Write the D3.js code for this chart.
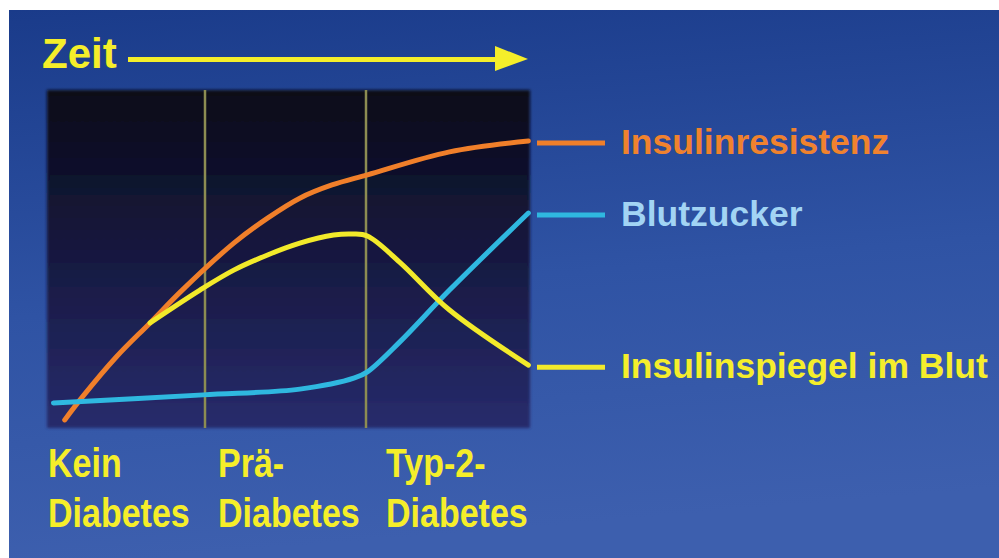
<!DOCTYPE html>
<html>
<head>
<meta charset="utf-8">
<script src="https://cdn.jsdelivr.net/npm/d3@7/dist/d3.min.js"></script>
<style>
  html, body { margin: 0; padding: 0; background: #fff; }
  svg { display: block; }
</style>
</head>
<body>
<div class="chart"></div>
<script>
"use strict";
(function(){

//data: time runs 0..3 (one unit per stage), level 0..100
var stageLines = [["Kein", "Diabetes"], ["Prä-", "Diabetes"], ["Typ-2-", "Diabetes"]];
var stageBounds = [1, 2];

var seriesNames = ["Insulinresistenz", "Blutzucker", "Insulinspiegel im Blut"];
var seriesColors = ["#f07f2a", "#2fb8e0", "#f2ea2a"];
var labelColors = ["#f0822e", "#a2d4f4", "#f5ee2c"];

var resistTime  = [0.11, 0.22, 0.43, 0.64, 0.84, 1.16, 1.37, 1.57, 1.77, 1.99, 2.5, 2.99];
var resistLevel = [2.4, 9.2, 21.0, 31.1, 40.8, 54.7, 62.1, 68.0, 71.9, 74.9, 81.7, 84.9];

var sugarTime  = [0.04, 0.97, 1.57, 1.91, 1.99, 2.19, 2.5, 2.99];
var sugarLevel = [7.4, 9.8, 11.5, 14.8, 16.6, 25.4, 40.8, 63.6];

var insulinTime  = [0.64, 0.95, 1.16, 1.37, 1.57, 1.78, 1.9, 1.99, 2.19, 2.5, 2.99];
var insulinLevel = [31.1, 40.8, 46.7, 51.2, 54.7, 57.1, 57.4, 56.8, 49.1, 34.9, 18.6];

//declaring variables
var width = 999;
var height = 558;
var plot = {left: 47, top: 90, right: 530, bottom: 428};

var zip = function(t, v){
  return t.map(function(d, i){ return {t: d, v: v[i]} })
}
var series = [zip(resistTime, resistLevel), zip(sugarTime, sugarLevel), zip(insulinTime, insulinLevel)];

var x = d3.scaleLinear().domain([0, 3]).range([plot.left, plot.right]);
var y = d3.scaleLinear().domain([0, 100]).range([plot.bottom, plot.top]);

var svg = d3.select('.chart')
            .append('svg')
            .attr('width', width)
            .attr('height', height);

var defs = svg.append('defs');

var bg = defs.append('linearGradient').attr('id', 'bg')
  .attr('x1', 0).attr('y1', 0).attr('x2', 0.15).attr('y2', 1);
bg.append('stop').attr('offset', '0%').attr('stop-color', '#1a3b8a');
bg.append('stop').attr('offset', '55%').attr('stop-color', '#2f53a4');
bg.append('stop').attr('offset', '100%').attr('stop-color', '#3d5fae');

var pg = defs.append('linearGradient').attr('id', 'pg')
  .attr('x1', 0).attr('y1', 0).attr('x2', 0).attr('y2', 1);
pg.append('stop').attr('offset', '0%').attr('stop-color', '#090a18');
pg.append('stop').attr('offset', '45%').attr('stop-color', '#15173c');
pg.append('stop').attr('offset', '100%').attr('stop-color', '#272b6c');

var blur = defs.append('filter').attr('id', 'soft')
  .attr('x', '-5%').attr('y', '-5%').attr('width', '110%').attr('height', '110%');
blur.append('feGaussianBlur').attr('stdDeviation', 1.5);

//white border top and left, then the blue panel
svg.append('rect')
  .attr('x', 9).attr('y', 10)
  .attr('width', width - 9).attr('height', height - 10)
  .style('fill', 'url(#bg)');

//dark plot area
svg.append('rect')
  .attr('x', plot.left).attr('y', plot.top)
  .attr('width', plot.right - plot.left).attr('height', plot.bottom - plot.top)
  .attr('filter', 'url(#soft)')
  .style('fill', 'url(#pg)');

//stage separators
svg.selectAll('.sep')
  .data(stageBounds)
  .enter().append('line')
  .attr('class', 'sep')
  .attr('x1', function(d){ return x(d) - 3 })
  .attr('x2', function(d){ return x(d) - 3 })
  .attr('y1', plot.top)
  .attr('y2', plot.bottom)
  .style('stroke', '#8c8c52')
  .style('stroke-width', 2.5);

//curves
var line = d3.line()
  .x(function(d){ return x(d.t) })
  .y(function(d){ return y(d.v) })
  .curve(d3.curveCatmullRom.alpha(0.5));

svg.selectAll('.curve')
  .data(series)
  .enter().append('path')
  .attr('class', 'curve')
  .attr('d', line)
  .style('fill', 'none')
  .style('stroke', function(d, i){ return seriesColors[i] })
  .style('stroke-width', 5)
  .style('stroke-linecap', 'round');

//legend at the line ends
var legend = svg.selectAll('.legend')
  .data(series)
  .enter().append('g')
  .attr('class', 'legend')
  .attr('transform', function(d){
    var last = d[d.length - 1];
    return 'translate(0,' + (y(last.v) + 2) + ')';
  });

legend.append('line')
  .attr('x1', 537).attr('x2', 605)
  .attr('y1', 0).attr('y2', 0)
  .style('stroke', function(d, i){ return seriesColors[i] })
  .style('stroke-width', 5);

legend.append('text')
  .attr('x', 621)
  .attr('y', 11)
  .text(function(d, i){ return seriesNames[i] })
  .style('font-family', '"Liberation Sans", Arial, sans-serif')
  .style('font-weight', 'bold')
  .style('font-size', '35.5px')
  .style('fill', function(d, i){ return labelColors[i] });

//time arrow
svg.append('text')
  .attr('x', 42).attr('y', 68)
  .text('Zeit')
  .style('font-family', '"Liberation Sans", Arial, sans-serif')
  .style('font-weight', 'bold')
  .style('font-size', '42px')
  .style('fill', '#f5ee2a');

svg.append('line')
  .attr('x1', 128).attr('x2', 498)
  .attr('y1', 59.5).attr('y2', 59.5)
  .style('stroke', '#f5ee2a')
  .style('stroke-width', 5);

svg.append('path')
  .attr('d', 'M495,46 L528,59 L495,71 Z')
  .style('fill', '#f5ee2a');

//stage labels, squeezed to look condensed
var stageX = [48, 218, 386];
var stages = svg.selectAll('.stage')
  .data(stageLines)
  .enter().append('g')
  .attr('class', 'stage')
  .attr('transform', function(d, i){ return 'translate(' + stageX[i] + ',477) scale(0.83,1)' });

stages.selectAll('text')
  .data(function(d){ return d })
  .enter().append('text')
  .attr('x', 0)
  .attr('y', function(d, i){ return i * 50 })
  .text(function(d){ return d })
  .style('font-family', '"Liberation Sans", Arial, sans-serif')
  .style('font-weight', 'bold')
  .style('font-size', '41px')
  .style('fill', '#f5ee2a');

})();
</script>
</body>
</html>
